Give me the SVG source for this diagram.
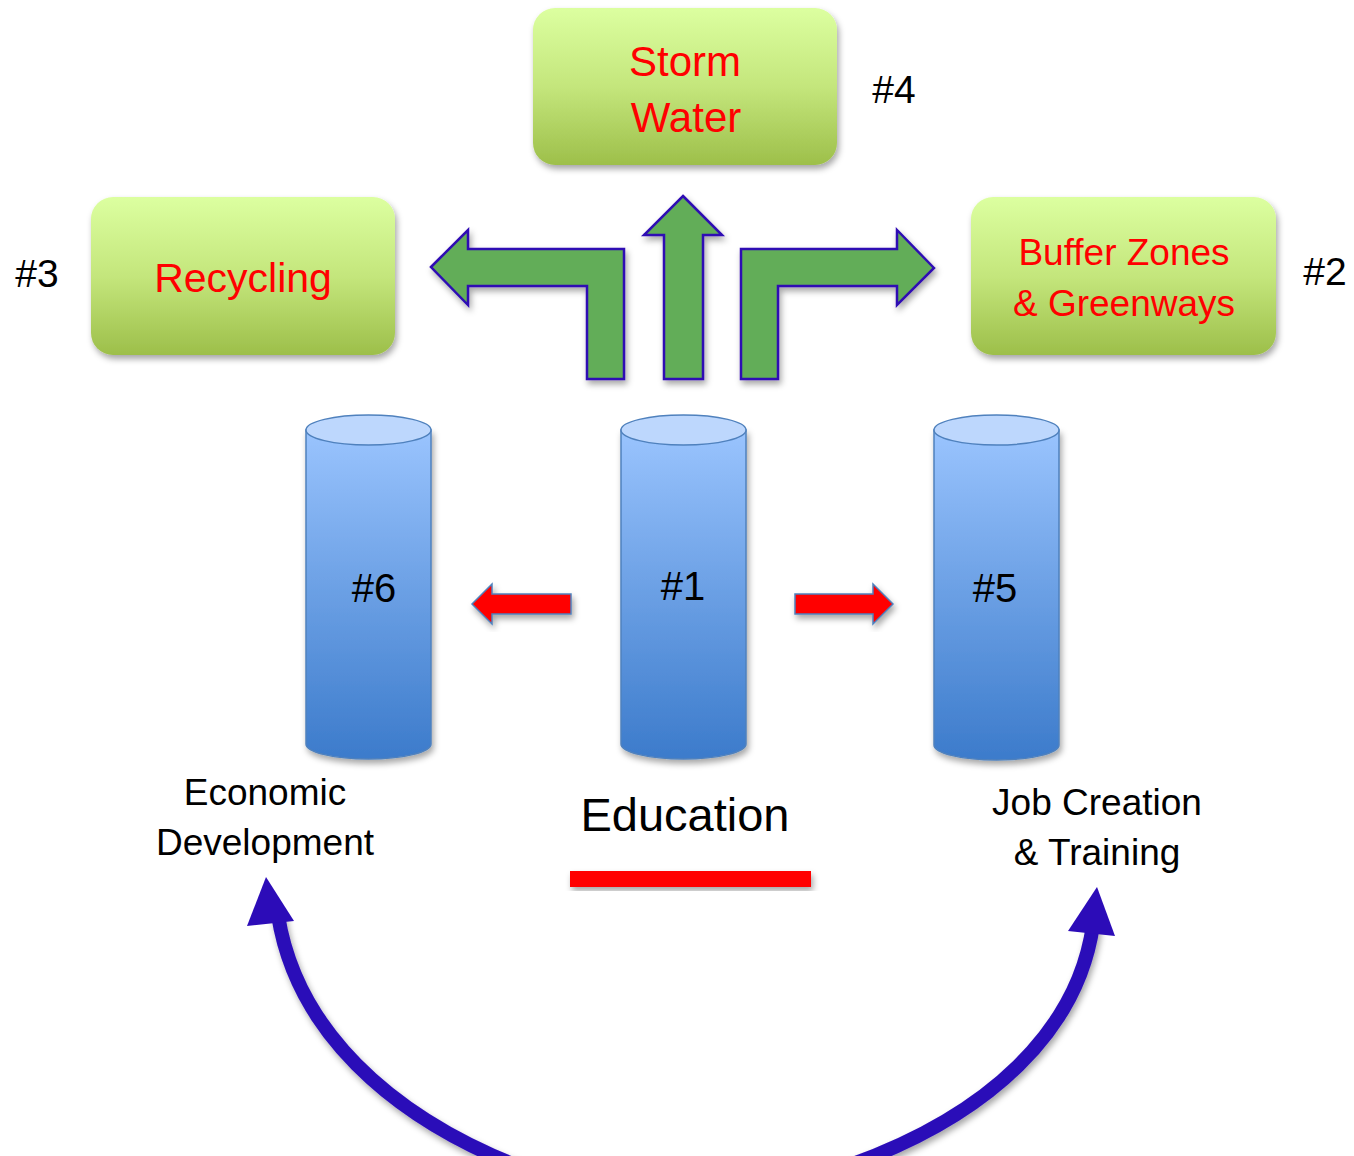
<svg xmlns="http://www.w3.org/2000/svg" width="1354" height="1156" viewBox="0 0 1354 1156">
<defs>
<linearGradient id="gGreen" x1="0" y1="0" x2="0" y2="1">
<stop offset="0" stop-color="#dcffa0"/>
<stop offset="0.5" stop-color="#c4e67c"/>
<stop offset="1" stop-color="#9dbf4a"/>
</linearGradient>
<linearGradient id="gBlue" x1="0" y1="0" x2="0" y2="1">
<stop offset="0" stop-color="#9ac4fe"/>
<stop offset="0.5" stop-color="#6a9fe4"/>
<stop offset="1" stop-color="#3c7bcb"/>
</linearGradient>
<filter id="sh" x="-20%" y="-20%" width="140%" height="140%">
<feDropShadow dx="2" dy="4" stdDeviation="3" flood-color="#000" flood-opacity="0.35"/>
</filter>
</defs>
<style>
.box{fill:url(#gGreen);filter:url(#sh)}
.rt{font-family:"Liberation Sans",Arial,sans-serif;fill:#ff0000;text-anchor:middle}
.bt{font-family:"Liberation Sans",Arial,sans-serif;fill:#000;text-anchor:middle}
.cyl{fill:url(#gBlue);stroke:#4f81bd;stroke-width:1.5;filter:url(#sh)}
.cap{fill:#bdd7fd;stroke:#4f81bd;stroke-width:1.5}
.garrow{fill:#62ad58;stroke:#2e0fb3;stroke-width:2.5;filter:url(#sh)}
.rarrow{fill:#ff0000;stroke:#4f81bd;stroke-width:1.5;filter:url(#sh)}
.arc{fill:none;stroke:#2c0cb8;stroke-width:14;filter:url(#sh)}
.head{fill:#2c0cb8}
</style>
<rect width="1354" height="1156" fill="#fff"/>

<g id="storm-water">
<rect class="box" x="533" y="8" width="304" height="157" rx="22"/>
<text class="rt" x="685" y="76" font-size="42">Storm</text>
<text class="rt" x="686" y="132" font-size="42">Water</text>
</g>
<g id="recycling">
<rect class="box" x="91" y="197" width="304" height="158" rx="22"/>
<text class="rt" x="243" y="292" font-size="41">Recycling</text>
</g>
<g id="buffer-zones">
<rect class="box" x="971" y="197" width="305" height="158" rx="22"/>
<text class="rt" x="1124" y="265" font-size="37">Buffer Zones</text>
<text class="rt" x="1124" y="316" font-size="37">&amp; Greenways</text>
</g>
<g id="label-4"><text class="bt" x="894" y="103" font-size="39">#4</text></g>
<g id="label-3"><text class="bt" x="37" y="287" font-size="39">#3</text></g>
<g id="label-2"><text class="bt" x="1325" y="285" font-size="39">#2</text></g>

<g id="pillar-6">
<path class="cyl" d="M306 430 L306 744 A62.5 15 0 0 0 431 744 L431 430 Z"/>
<ellipse class="cap" cx="368.5" cy="430" rx="62.5" ry="15"/>
<text class="bt" x="374" y="602" font-size="40">#6</text>
</g>
<g id="pillar-1">
<path class="cyl" d="M621 430 L621 744 A62.5 15 0 0 0 746 744 L746 430 Z"/>
<ellipse class="cap" cx="683.5" cy="430" rx="62.5" ry="15"/>
<text class="bt" x="683" y="600" font-size="40">#1</text>
</g>
<g id="pillar-5">
<path class="cyl" d="M934 430 L934 745 A62.5 15 0 0 0 1059 745 L1059 430 Z"/>
<ellipse class="cap" cx="996.5" cy="430" rx="62.5" ry="15"/>
<text class="bt" x="995" y="602" font-size="40">#5</text>
</g>

<g id="label-economic">
<text class="bt" x="265" y="805" font-size="37">Economic</text>
<text class="bt" x="265" y="855" font-size="37">Development</text>
</g>
<g id="label-education">
<text class="bt" x="685" y="831" font-size="47">Education</text>
<rect x="570" y="871" width="241" height="16" fill="#ff0000" filter="url(#sh)"/>
</g>
<g id="label-job">
<text class="bt" x="1097" y="815" font-size="37">Job Creation</text>
<text class="bt" x="1097" y="865" font-size="37">&amp; Training</text>
</g>

<g id="connectors">
<polygon class="garrow" points="431,267 468,230 468,249 624,249 624,379 587,379 587,286 468,286 468,305"/>
<polygon class="garrow" points="683,196 722,235 703,235 703,379 664,379 664,235 644,235"/>
<polygon class="garrow" points="934,268 897,230 897,249 741,249 741,379 778,379 778,286 897,286 897,305"/>
<polygon class="rarrow" points="472,604 492,584 492,594 571,594 571,614 492,614 492,624"/>
<polygon class="rarrow" points="893,604 873,584 873,594 795,594 795,614 873,614 873,624"/>
<path class="arc" d="M278 915 C296 1030 390 1115 515 1165"/>
<polygon class="head" points="266,877 294,921 247,926"/>
<path class="arc" d="M1093 925 C1078 1030 990 1115 850 1165"/>
<polygon class="head" points="1097,887 1115,936 1068,931"/>
</g>
</svg>
